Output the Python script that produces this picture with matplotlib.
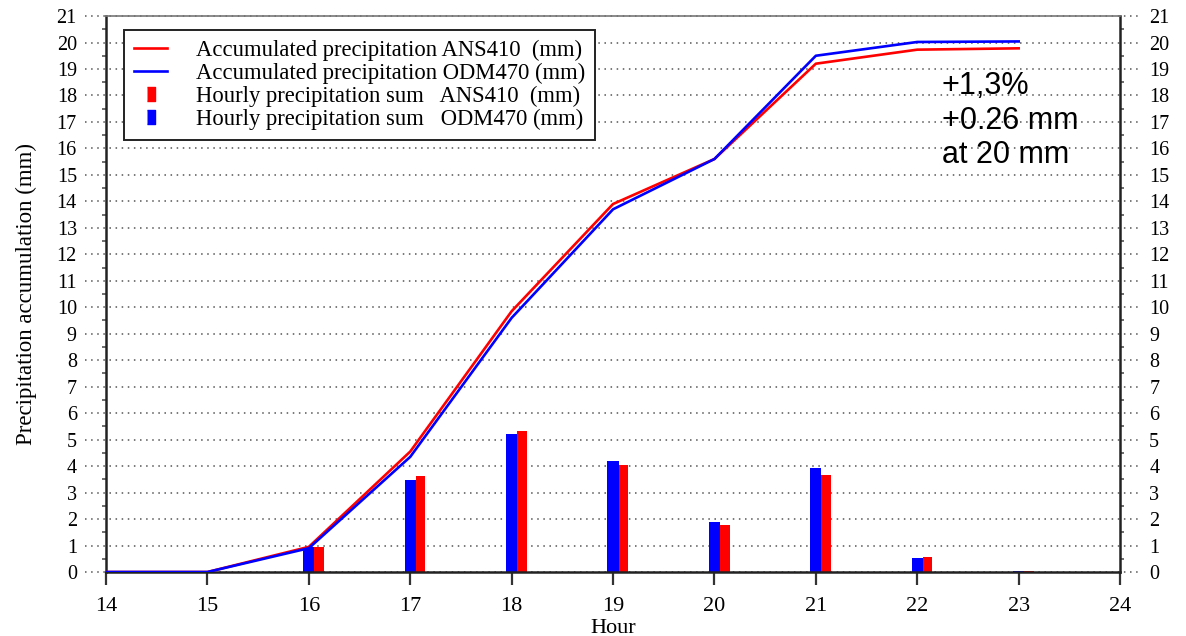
import matplotlib
matplotlib.use('Agg')
import numpy as np
import matplotlib.pyplot as plt
from matplotlib.lines import Line2D

# datos
hours = [14, 15, 16, 17, 18, 19, 20, 21, 22, 23]
acc_ans410 = [0, 0, 0.95, 4.55, 9.85, 13.9, 15.6, 19.2, 19.73, 19.78]
acc_odm470 = [0, 0, 0.9, 4.35, 9.6, 13.7, 15.6, 19.5, 20.02, 20.04]

bar_hours = [16, 17, 18, 19, 20, 21, 22, 23]
hourly_ans410 = [0.95, 3.62, 5.32, 4.06, 1.76, 3.66, 0.55, 0.04]
hourly_odm470 = [0.95, 3.47, 5.23, 4.19, 1.90, 3.91, 0.54, 0.02]

serif = ['Liberation Serif', 'DejaVu Serif']
plt.rcParams['font.family'] = serif

fig = plt.figure(figsize=(11.86, 6.36), dpi=100)
ax = fig.add_axes([0.0894, 0.1006, 0.855, 0.8742])

# barras horarias (azul centrada, roja a la derecha)
bh = np.array(bar_hours)
ax.bar(bh, hourly_odm470, width=0.11, color='#0000ff', zorder=2)
ax.bar(bh + 0.055, hourly_ans410, width=0.095, align='edge', color='#ff0000', zorder=2)

# curvas acumuladas
l1, = ax.plot(hours, acc_ans410, color='#ff0000', lw=1.9, zorder=3)
l2, = ax.plot(hours, acc_odm470, color='#0000ff', lw=1.9, zorder=3)

ax.set_xlim(14, 24)
ax.set_ylim(0, 21)
ax.set_xticks(range(14, 25))
ax.set_yticks(range(0, 22))
ax.set_yticks(np.arange(0.5, 21, 1), minor=True)

# rejilla punteada que sale fuera de los ejes
ax.hlines(range(0, 22), -0.021, 1.021, transform=ax.get_yaxis_transform(),
          colors='#555555', linestyles=(0, (1, 3)), lw=1.1, clip_on=False, zorder=0.5)

ax.tick_params(axis='y', which='major', length=0, pad=21, labelsize=14.5,
               labelright=True, right=True)
ax.tick_params(axis='y', which='minor', direction='out', length=3, width=1.2,
               color='#555555', right=True)
ax.tick_params(axis='x', direction='out', length=9, width=1.6, color='#333333',
               labelsize=16, pad=9)

for s in ['left', 'right', 'bottom']:
    ax.spines[s].set_linewidth(1.8)
    ax.spines[s].set_color('#222222')
ax.spines['top'].set_linewidth(1.2)
ax.spines['top'].set_color('#777777')

ax.set_xlabel('Hour', fontsize=16, labelpad=2)
ax.set_ylabel('Precipitation accumulation (mm)', fontsize=16.5, labelpad=14)

# leyenda
rect = [(-0.6, -1), (0.6, -1), (0.6, 1), (-0.6, 1)]
p1 = Line2D([], [], ls='none', marker=rect, markersize=10.5, color='#ff0000')
p2 = Line2D([], [], ls='none', marker=rect, markersize=10.5, color='#0000ff')
leg = ax.legend([l1, l2, p1, p2],
                ['Accumulated precipitation ANS410  (mm)',
                 'Accumulated precipitation ODM470 (mm)',
                 'Hourly precipitation sum   ANS410  (mm)',
                 'Hourly precipitation sum   ODM470 (mm)'],
                loc='upper left', bbox_to_anchor=(0.018, 0.975), borderaxespad=0,
                fontsize=16.3, fancybox=False, framealpha=1, edgecolor='#222222',
                handlelength=1.45, handletextpad=1.25, labelspacing=0.08,
                borderpad=0.45)
leg.get_frame().set_linewidth(1.4)

ax.text(22.24, 17.05, '+1,3%\n+0.26 mm\nat 20 mm', fontsize=22,
        family=['Liberation Sans', 'DejaVu Sans'], va='center', ha='left',
        linespacing=1.18)

fig.savefig('out.png', dpi=100)
